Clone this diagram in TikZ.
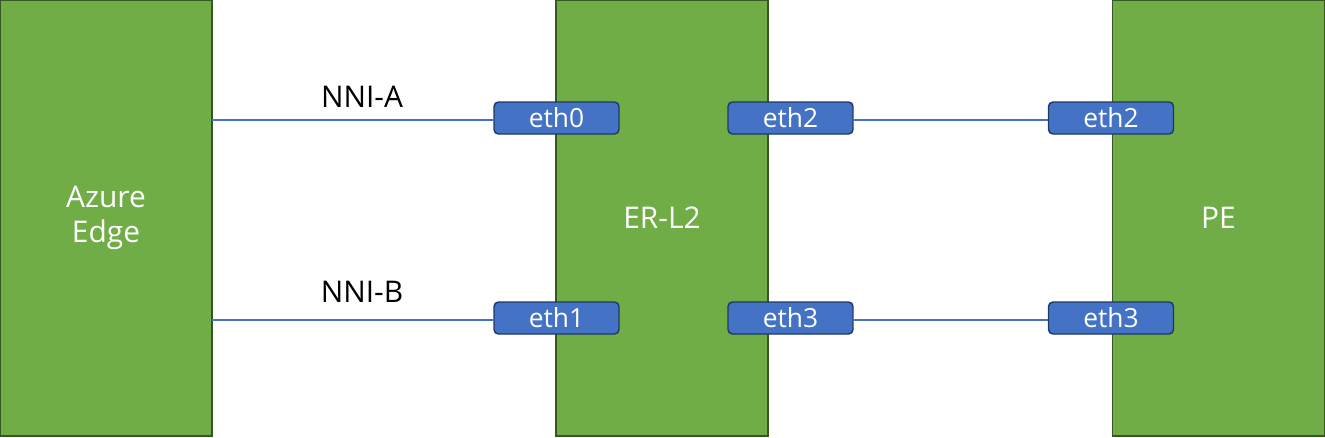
\documentclass[tikz,border=0pt]{standalone}
\usepackage{fontspec}
\setmainfont{Open Sans}
\definecolor{grn}{HTML}{70AD47}
\definecolor{grnb}{HTML}{375623}
\definecolor{blu}{HTML}{4472C4}
\definecolor{blub}{HTML}{1F3864}
\begin{document}
\begin{tikzpicture}[x=0.02cm,y=-0.02cm,
  dev/.style={draw=grnb,fill=grn,line width=0.8pt,minimum width=4.24cm,minimum height=8.72cm,text=white,font=\fontsize{17}{20}\selectfont,align=center},
  port/.style={draw=blub,fill=blu,rounded corners=2.5pt,line width=0.8pt,minimum width=2.5cm,minimum height=0.64cm,inner sep=0pt,text=white,font=\fontsize{15}{17}\selectfont},
  link/.style={draw=blu,line width=1pt},
  lbl/.style={font=\fontsize{17}{20}\selectfont}]
\useasboundingbox (0,0) rectangle (1325,437);
\node[dev] (az) at (106,218) {Azure\\Edge};
\node[dev] (er) at (662,218) {ER-L2};
\node[dev] (pe) at (1218.5,218) {PE};
\node[port] (e0) at (556.5,118) {eth0};
\node[port] (e1) at (556.5,318) {eth1};
\node[port] (e2) at (790.5,118) {eth2};
\node[port] (e3) at (790.5,318) {eth3};
\node[port] (p2) at (1111,118) {eth2};
\node[port] (p3) at (1111,318) {eth3};
\coordinate (a1) at (212,120);
\coordinate (a2) at (212,320);
\draw[link] (a1) -- (e0.west|-a1);
\draw[link] (a2) -- (e1.west|-a2);
\draw[link] (e2.east|-a1) -- (p2.west|-a1);
\draw[link] (e3.east|-a2) -- (p3.west|-a2);
\node[lbl] (na) at (362,97) {NNI-A};
\node[lbl] (nb) at (362,292) {NNI-B};
\end{tikzpicture}
\end{document}
